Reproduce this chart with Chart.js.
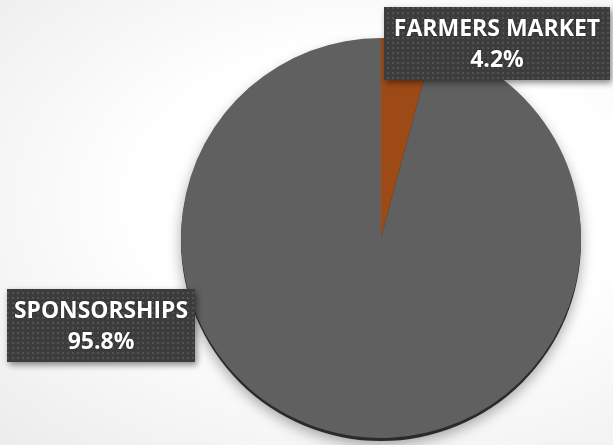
<!DOCTYPE html>
<html>
<head>
<meta charset="utf-8">
<script src="https://cdn.jsdelivr.net/npm/chart.js@4.4.1/dist/chart.umd.min.js"></script>
<style>
html,body{margin:0;padding:0;}
body{width:613px;height:445px;overflow:hidden;background:radial-gradient(ellipse at 62% 45%, #ffffff 0%, #ffffff 45%, #ececec 100%);}
#wrap{position:relative;width:613px;height:445px;}
</style>
</head>
<body>
<div id="wrap"><canvas id="c" width="613" height="445"></canvas></div>
<script>
const categories = ['FARMERS MARKET', 'SPONSORSHIPS'];
const shares = [4.2, 95.8];
const valueLabels = ['4.2%', '95.8%'];
const sliceColors = ['#9e4a17', '#606060'];

function makePattern(ctx){
  const p = document.createElement('canvas');
  p.width = 5; p.height = 5;
  const g = p.getContext('2d');
  g.fillStyle = '#3c3c3c'; g.fillRect(0,0,5,5);
  g.fillStyle = '#525252'; g.fillRect(2,2,2,2);
  return ctx.createPattern(p, 'repeat');
}

const rimPlugin = {
  id: 'rim',
  beforeDatasetsDraw(chart){
    const arc = chart.getDatasetMeta(0).data[0];
    if(!arc) return;
    const {x, y, outerRadius} = arc.getProps(['x','y','outerRadius'], true);
    const ctx = chart.ctx;
    ctx.save();
    ctx.shadowColor = 'rgba(0,0,0,0.35)';
    ctx.shadowBlur = 14;
    ctx.shadowOffsetY = 4;
    ctx.fillStyle = '#2a2a2a';
    ctx.beginPath();
    ctx.ellipse(x, y + 3, outerRadius, outerRadius, 0, 0, Math.PI*2);
    ctx.fill();
    ctx.restore();
  }
};

const labelBoxPlugin = {
  id: 'labelBoxes',
  afterDatasetsDraw(chart, args, opts){
    const ctx = chart.ctx;
    const pat = makePattern(ctx);
    opts.boxes.forEach((b, i) => {
      ctx.save();
      ctx.shadowColor = 'rgba(0,0,0,0.45)';
      ctx.shadowBlur = 6;
      ctx.shadowOffsetX = 2;
      ctx.shadowOffsetY = 3;
      ctx.fillStyle = pat;
      ctx.fillRect(b.x, b.y, b.w, b.h);
      ctx.restore();
      ctx.save();
      ctx.fillStyle = '#ffffff';
      ctx.font = 'bold 23px "Open Sans", "DejaVu Sans", sans-serif';
      ctx.textAlign = 'center';
      ctx.textBaseline = 'middle';
      const cx = b.x + b.w/2;
      ctx.shadowColor = 'rgba(0,0,0,0.5)';
      ctx.shadowBlur = 2;
      ctx.fillText(categories[i], cx, b.y + b.h*0.31, b.w - 14);
      ctx.fillText(valueLabels[i], cx, b.y + b.h*0.73);
      ctx.restore();
    });
  }
};

new Chart(document.getElementById('c'), {
  type: 'pie',
  data: {
    labels: categories,
    datasets: [{
      data: shares,
      backgroundColor: sliceColors,
      borderWidth: 0,
      hoverOffset: 0
    }]
  },
  options: {
    responsive: false,
    animation: false,
    layout: { padding: { left: 180, right: 31, top: 38, bottom: 7 } },
    plugins: {
      legend: { display: false },
      tooltip: { enabled: false },
      labelBoxes: {
        boxes: [
          { x: 384, y: 7, w: 226, h: 73 },
          { x: 7, y: 289, w: 188, h: 73 }
        ]
      }
    }
  },
  plugins: [rimPlugin, labelBoxPlugin]
});
</script>
</body>
</html>
